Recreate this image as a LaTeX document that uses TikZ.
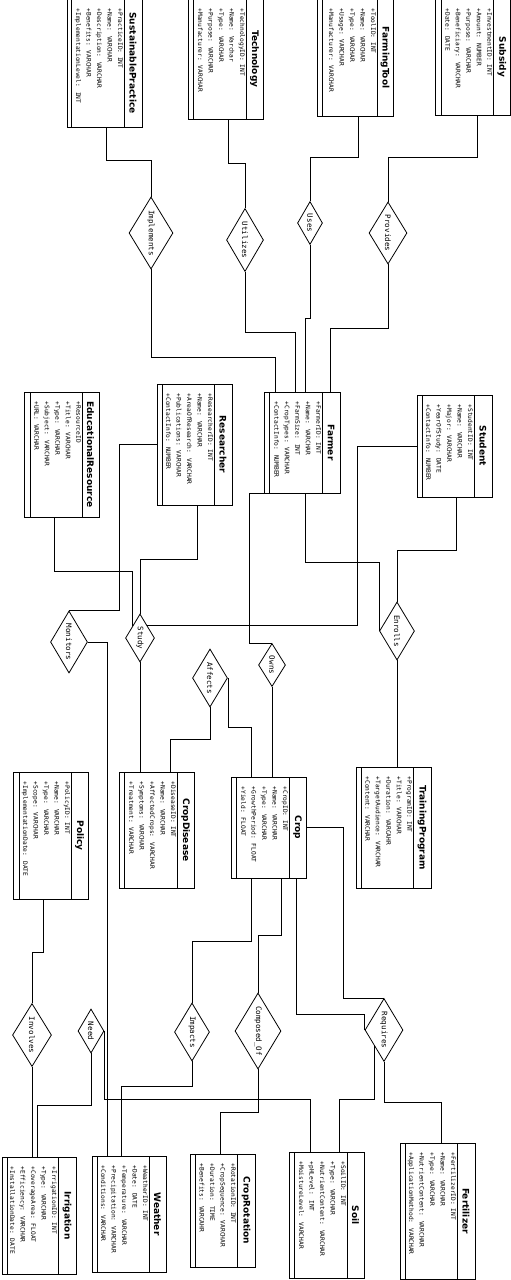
\documentclass[tikz,border=0pt]{standalone}
\usepackage{fontspec}
\usepackage{tikz}
\usetikzlibrary{shapes.geometric,fit}
\newfontfamily\monof{DejaVu Sans Mono}
\newfontfamily\sansf{DejaVu Sans}
\tikzset{
  entbox/.style={draw, line width=0.95pt, inner sep=0pt, fill=white},
  colline/.style={line width=0.85pt},
  hdr/.style={rotate=-90, font=\sansf\bfseries\fontsize{9}{10}\selectfont, inner sep=0pt},
  attr/.style={rotate=-90, anchor=north west, align=left, inner sep=0.5pt, font=\monof\fontsize{6.2}{10.5}\selectfont},
  rel/.style={draw, diamond, line width=0.8pt, inner sep=0pt, fill=white},
  rellab/.style={rotate=-90, font=\monof\fontsize{7.5}{9}\selectfont, inner sep=0pt},
  conn/.style={line width=0.8pt},
}
\newcommand{\erbox}[9]{%
  \node[entbox, fit={(#2,#3) (#4,#5)}] (#1) {};
  \draw[colline] (#6,#3) -- (#6,#5);
  \draw[colline] (#7,#3) -- (#7,#5);
  \node[hdr] at ({(#6+#4)/2},{(#3+#5)/2}) {#8};
  \node[attr] at ({#6-0.5},{#3+9}) {#9};
}
\newcommand{\relnode}[6]{%
  \node[rel, minimum width=#4pt, minimum height=#5pt] (#1) at (#2,#3) {};
  \node[rellab] at (#1) {#6};
}
\begin{document}
\begin{tikzpicture}[x=1pt,y=-1pt]
\fill[white] (0,0) rectangle (511,1280);
\useasboundingbox (0,0) rectangle (511,1280);

% entities
\erbox{sp}{67}{-1}{142}{127}{124}{71}{SustainablePractice}{+PracticeID: INT\\+Name: VARCHAR\\+Description: VARCHAR\\+Benefits: VARCHAR\\+ImplementationLevel: INT}
\erbox{tech}{188}{-1}{263}{119}{246}{193}{Technology}{+TechnologyID: INT\\+Name: Varchar\\+Type: VARCHAR\\+Purpose: VARCHAR\\+Manufacturer: VARCHAR}
\erbox{ft}{317}{-1}{393}{116}{377}{322}{FarmingTool}{+ToolID: INT\\+Name: VARCHAR\\+Type: VARCHAR\\+Usage: VARCHAR\\+Manufacturer: VARCHAR}
\erbox{sub}{435}{-1}{510.5}{115}{493}{441}{Subsidy}{+InvestmentID: INT\\+Amount: NUMBER\\+Purpose: VARCHAR\\+Beneficiary: VARCHAR\\+Date: DATE}
\erbox{er}{24}{392}{99}{517}{82}{30}{EducationalResource}{+ResourceID\\+Title: VARCHAR\\+Type: VARCHAR\\+Subject: VARCHAR\\+URL: VARCHAR}
\erbox{res}{157}{384}{232}{505}{214}{162}{Researcher}{+ResearcherID: INT\\+Name: VARCHAR\\+AreaOfResearch: VARCHAR\\+Publications: VARCHAR\\+ContactInfo: NUMBER}
\erbox{far}{264}{392}{340}{493}{322}{269}{Farmer}{+FarmerID: INT\\+Name: VARCHAR\\+FarmSize: INT\\+CropTypes: VARCHAR\\+ContactInfo: NUMBER}
\erbox{stu}{417}{395}{492}{497}{474}{422}{Student}{+StudentID: INT\\+Name: VARCHAR\\+Major: VARCHAR\\+YearOfStudy: DATE\\+ContactInfo: NUMBER}
\erbox{pol}{13}{772}{88}{899}{71}{19}{Policy}{+PolicyID: INT\\+Name: VARCHAR\\+Type: VARCHAR\\+Scope: VARCHAR\\+ImplementationDate: DATE}
\erbox{cd}{119}{772}{194}{888}{177}{124}{CropDisease}{+DiseaseID: INT\\+Name: VARCHAR\\+AffectedCrops: VARCHAR\\+Symptoms: VARCHAR\\+Treatment: VARCHAR}
\erbox{crop}{231}{777}{306}{878}{289}{236}{Crop}{+CropID: INT\\+Name: VARCHAR\\+Type: VARCHAR\\+GrowthPeriod: FLOAT\\+Yield: FLOAT}
\erbox{tp}{356}{767}{431}{888}{413}{361}{TrainingProgram}{+ProgramID: INT\\+Title: VARCHAR\\+Duration: VARCAHR\\+TargetAudience: VARCHAR\\+Content: VARCHAR}
\erbox{irr}{2}{1157}{76}{1274}{58}{7}{Irrigation}{+IrrigationID: INT\\+Type: VARCHAR\\+CoverageArea: FLOAT\\+Efficiency: VARCHAR\\+InstallationDate: DATE}
\erbox{wea}{92}{1156}{166}{1272}{149}{97}{Weather}{+WeatherID: INT\\+Date: DATE\\+Temperature: VARCHAR\\+Precipitation: VARCHAR\\+Conditions: VARCHAR}
\erbox{cr}{190}{1154}{255}{1267}{237}{195}{CropRotation}{+RotationID: INT\\+CropSequence: VARCHAR\\+Duration: TIME\\+Benefits: VARCAHR}
\erbox{soil}{289}{1152}{364}{1278}{347}{294}{Soil}{+SoilID: INT\\+Type: VARCHAR\\+NutrientContent: VARCHAR\\+pHLevel: INT\\+MoistureLevel: VARCHAR}
\erbox{fert}{400}{1143}{475}{1279}{457}{405}{Fertilizer}{+FertilizerID: INT\\+Name: VARCHAR\\+Type: VARCHAR\\+NutrientContent: VARCHAR\\+ApplicationMethod: VARCHAR}

% relationships
\relnode{imp}{151}{233}{44}{72}{Implements}
\relnode{uti}{245}{240}{37}{63}{Utilizes}
\relnode{uses}{310}{223}{25}{43}{Uses}
\relnode{prov}{388}{233}{38}{62}{Provides}
\relnode{mon}{69}{642}{37}{62}{Monitors}
\relnode{study}{140}{638}{29}{48}{Study}
\relnode{aff}{210}{678}{35}{58}{Affects}
\relnode{owns}{272}{665}{27}{43}{Owns}
\relnode{enr}{397}{631}{35}{58}{Enrolls}
\relnode{inv}{32}{1035}{39}{63}{Involves}
\relnode{need}{91}{1031}{26}{44}{Need}
\relnode{impc}{192}{1032}{35}{58}{Impacts}
\relnode{comp}{258}{1031}{46}{76}{Composed\_Of}
\relnode{req}{384}{1030}{38}{63}{Requires}

% connectors
\draw[conn] ([xshift=40pt]sp.south west) -- ++(0,33) -| (imp.north);
\draw[conn] (imp.south) -- ++(0,88) -| ([xshift=12pt]far.north west);
\draw[conn] ([xshift=41pt]tech.south west) -- ++(0,44) -| (uti.north);
\draw[conn] (uti.south) -- ++(0,60) -| ([xshift=32pt]far.north west);
\draw[conn] ([xshift=42pt]ft.south west) -- ++(0,41) -| (uses.north);
\draw[conn] (uses.south) -- ++(0,73) -| ([xshift=42pt]far.north west);
\draw[conn] ([xshift=43pt]sub.south west) -- ++(0,42) -| (prov.north);
\draw[conn] (prov.south) -- ++(0,64) -| ([xshift=67pt]far.north west);

\draw[conn] ([xshift=31pt]er.south west) -- ++(0,54) -| (study.north west);
\draw[conn] (res.west) -- ++(-37,0) |- (mon.north);
\draw[conn] ([xshift=41pt]res.south west) -- ++(0,54) -| (study.north);
\draw[conn] (stu.west) -- ++(-59,0) |- (study.north east);
\draw[conn] (far.south west) -- ++(-14,0) |- (owns.north);
\draw[conn] ([xshift=42pt]far.south west) -- ++(0,69) -| (enr.west);
\draw[conn] ([xshift=40pt]stu.south west) -- ++(0,53) -| (enr.north);

\draw[conn] (mon.east) -| ([xshift=16pt]wea.north west);
\draw[conn] (study.south) -- (study.south |- cd.north);
\draw[conn] (aff.south) -- ++(0,32) -| ([xshift=52pt]cd.north west);
\draw[conn] (aff.east) -- ++(0,49) -| ([xshift=21pt]crop.north west);
\draw[conn] (owns.south) -- (owns.south |- crop.north);
\draw[conn] (enr.south) -- (enr.south |- tp.north);

\draw[conn] (crop.east) -- ++(37,0) |- (req.north);
\draw[conn] ([xshift=66pt]crop.south west) -- ++(0,136) -| (req.west);
\draw[conn] ([xshift=51pt]crop.south west) -- ++(0,57) -| (comp.north);
\draw[conn] ([xshift=21pt]crop.south west) -- ++(0,63) -| (impc.north);
\draw[conn] (req.south west) -- ++(0,53) -| ([xshift=51pt]soil.north west);
\draw[conn] (req.south) -- ++(0,40) -| ([xshift=42pt]fert.north west);
\draw[conn] (impc.south) -- ++(0,25) -| ([xshift=30pt]wea.north west);
\draw[conn] (comp.south) -- ++(0,43) -| ([xshift=31pt]cr.north west);
\draw[conn] ([xshift=31pt]pol.south west) -- ++(0,53) -| (inv.north);
\draw[conn] (inv.south) -- (inv.south |- irr.north);
\draw[conn] (need.south) -- ++(0,52) -| ([xshift=36pt]irr.north west);
\draw[conn] (need.east) -- ++(0,68) -| ([xshift=22pt]soil.north west);
\end{tikzpicture}
\end{document}
